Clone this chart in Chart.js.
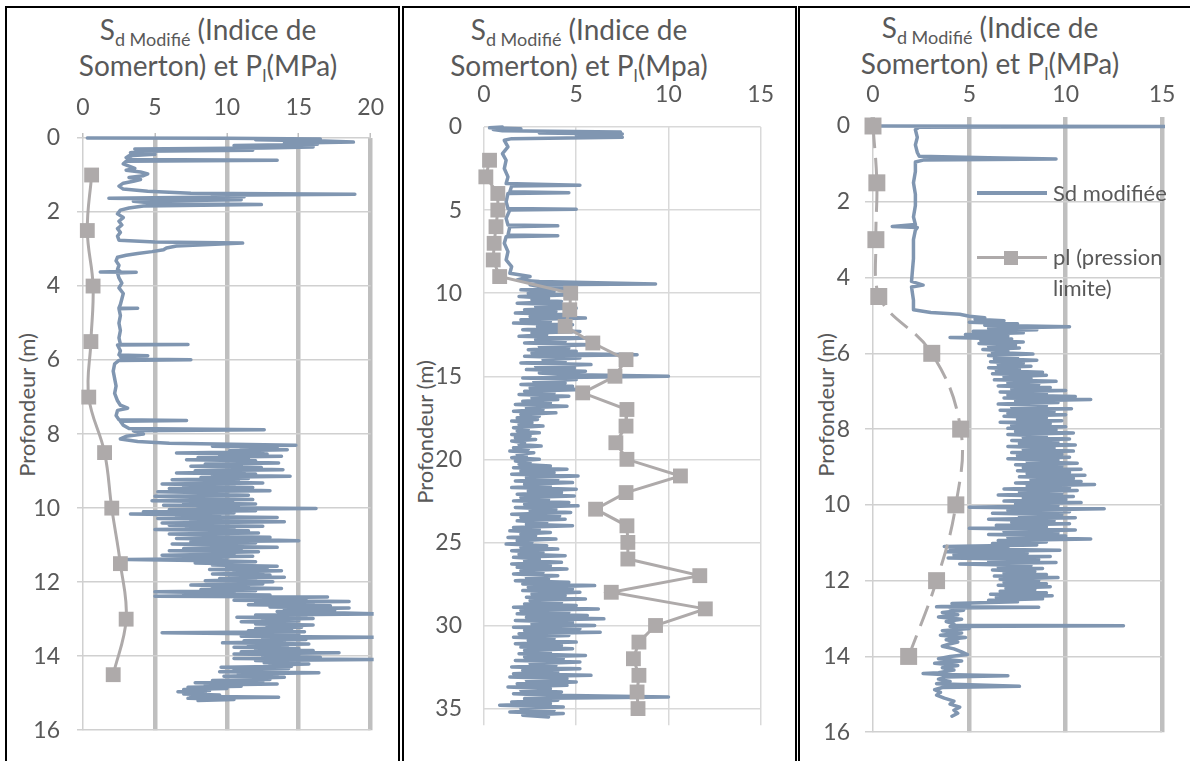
<!DOCTYPE html>
<html><head><meta charset="utf-8">
<script src="https://cdn.jsdelivr.net/npm/chart.js@4.4.1/dist/chart.umd.min.js"></script>
<style>
html,body{margin:0;padding:0;background:#fff;}
body{width:1190px;height:761px;position:relative;overflow:hidden;font-family:Lato,sans-serif;color:#595959;}
.b{position:absolute;background:#000;}
canvas{position:absolute;}
.title{position:absolute;width:400px;text-align:center;font-size:28px;line-height:36px;white-space:nowrap;color:#595959;}
.title sub{font-size:18px;vertical-align:-6px;line-height:0;}
.ytitle{position:absolute;font-size:22px;line-height:26px;white-space:nowrap;transform:translate(-50%,-50%) rotate(-90deg);color:#595959;}
.lg{position:absolute;font-size:22px;white-space:nowrap;color:#595959;}
</style>
</head><body>
<!-- table borders -->
<div class="b" style="left:5px;top:6px;width:2px;height:755px"></div>
<div class="b" style="left:5px;top:6px;width:395px;height:2px"></div>
<div class="b" style="left:398px;top:6px;width:2px;height:755px"></div>
<div class="b" style="left:402px;top:6px;width:2px;height:755px"></div>
<div class="b" style="left:402px;top:6px;width:395px;height:2px"></div>
<div class="b" style="left:795px;top:6px;width:2px;height:755px"></div>
<div class="b" style="left:798px;top:6px;width:2px;height:755px"></div>
<div class="b" style="left:798px;top:6px;width:392px;height:2px"></div>

<div class="title" style="left:8px;top:11px">S<sub>d Modifié</sub> (Indice de<br>Somerton) et P<sub>l</sub>(MPa)</div>
<div class="title" style="left:379px;top:11px">S<sub>d Modifié</sub> (Indice de<br>Somerton) et P<sub>l</sub>(Mpa)</div>
<div class="title" style="left:790px;top:9px">S<sub>d Modifié</sub> (Indice de<br>Somerton) et P<sub>l</sub>(MPa)</div>

<div class="ytitle" style="left:27px;top:405px">Profondeur (m)</div>
<div class="ytitle" style="left:425px;top:432px">Profondeur (m)</div>
<div class="ytitle" style="left:826px;top:405px">Profondeur (m)</div>

<canvas id="c1" width="388" height="681" style="left:8px;top:80px"></canvas>
<canvas id="c2" width="390" height="681" style="left:403px;top:80px"></canvas>
<canvas id="c3" width="390" height="681" style="left:800px;top:80px"></canvas>

<!-- legend of panel 3 -->
<div style="position:absolute;left:977px;top:191px;width:70px;height:4px;background:#8096B1"></div>
<div class="lg" style="left:1053px;top:178px;line-height:30px">Sd modifiée</div>
<div style="position:absolute;left:977px;top:256px;width:70px;height:3px;background:#AEAAAA"></div>
<div style="position:absolute;left:1004px;top:251px;width:14px;height:14px;background:#AEAAAA"></div>
<div class="lg" style="left:1053px;top:241px;line-height:31px">pl (pression<br>limite)</div>

<script>
// ---------- Panel 1 : Sd modifiée ----------
const sd1Depth = [
0,0.01,0.03,0.05,0.08,0.11,0.14,0.17,0.2,0.24,
0.27,0.3,0.33,0.36,0.4,0.44,0.48,0.53,0.58,0.6,
0.63,0.7,0.76,0.82,0.87,0.92,0.97,1.02,1.07,1.12,
1.17,1.22,1.3,1.38,1.44,1.49,1.52,1.55,1.59,1.63,
1.67,1.71,1.76,1.8,1.84,1.89,1.95,2.05,2.15,2.25,
2.35,2.45,2.55,2.65,2.76,2.81,2.84,2.88,2.92,2.97,
3.02,3.07,3.12,3.17,3.22,3.32,3.44,3.55,3.61,3.62,
3.63,3.65,3.78,3.92,4.05,4.2,4.35,4.5,4.59,4.6,
4.61,4.8,5,5.2,5.4,5.57,5.58,5.59,5.75,5.86,
5.88,5.9,5.97,5.99,6.01,6.1,6.3,6.5,6.7,6.9,
7.1,7.22,7.3,7.36,7.5,7.61,7.63,7.65,7.76,7.85,
7.88,7.91,8,8.06,8.13,8.2,8.25,
8.30,8.33,8.36,8.39,8.42,8.45,8.48,8.51,8.54,8.57,
8.60,8.63,8.66,8.69,8.72,8.75,8.78,8.81,8.84,8.87,
8.90,8.93,8.96,8.99,9.02,9.05,9.08,9.11,9.14,9.17,
9.20,9.23,9.26,9.29,9.32,9.35,9.38,9.41,9.44,9.47,
9.50,9.53,9.56,9.59,9.62,9.65,9.68,9.71,9.74,9.77,
9.80,9.83,9.86,9.89,9.92,9.95,9.98,10.01,10.04,10.07,
10.10,10.13,10.16,10.19,10.22,10.25,10.28,10.31,10.34,10.37,
10.40,10.43,10.46,10.49,10.52,10.55,10.58,10.61,10.64,10.67,
10.70,10.73,10.76,10.79,10.82,10.85,10.88,10.91,10.94,10.97,
11.00,11.03,11.06,11.09,11.12,11.15,11.18,11.21,11.24,11.27,
11.30,11.33,11.36,11.39,11.42,11.45,11.48,11.51,11.54,11.57,
11.60,11.63,11.66,11.69,11.72,11.75,11.78,11.81,11.84,11.87,
11.90,11.93,11.96,11.99,12.02,12.05,12.08,12.11,12.14,12.17,
12.20,12.23,12.26,12.29,12.32,12.35,12.38,12.40,12.43,12.46,
12.49,12.52,12.55,12.58,12.61,12.64,12.67,12.70,12.73,12.76,
12.79,12.82,12.86,12.89,12.92,12.95,12.98,13.01,13.04,13.07,
13.10,13.13,13.16,13.19,13.22,13.25,13.28,13.31,13.34,13.37,
13.40,13.43,13.46,13.49,13.52,13.55,13.58,13.61,13.64,13.67,
13.70,13.73,13.76,13.79,13.82,13.85,13.88,13.91,13.94,13.97,
14.00,14.03,14.06,14.09,14.12,14.15,14.18,14.21,14.24,14.27,
14.30,14.33,14.36,14.39,14.42,14.45,14.48,14.51,14.54,14.57,
14.60,14.63,14.66,14.69,14.72,14.75,14.78,14.81,14.84,14.87,
14.90,14.93,14.96,14.99,15.02,15.05,15.08,15.11,15.14,15.17,
15.20];
const sd1Value = [
0.3,10,16.5,12,16.8,18.8,14,16.3,10.5,16,
12.5,3.6,11.8,4,3.3,5,3.2,3,3.4,13.5,
3,2.8,3.2,3.6,3,4,4.5,4.2,3.2,4,
3.5,2.8,2.5,2.8,4.5,7.5,18.9,9,11.2,1.8,
11,3.5,5,12.4,4.2,3.2,2.6,2.4,2.8,2.5,
2.7,2.4,2.6,2.4,2.5,5,11.1,8.8,6.5,5.8,
5.6,4.8,3.8,3,2.4,2.3,2.5,2.4,2.6,1.2,
3.7,2.4,2.5,2.7,2.5,2.8,2.7,2.6,2.5,3.8,
2.5,2.6,2.5,2.6,2.5,2.6,7.3,2.4,2.6,2.5,
4.5,2.6,2.7,7.5,2.5,2.2,2.1,2.2,2.3,2.2,
2.4,2.6,3.1,2.4,2.3,2.5,7.2,2.6,2.8,3.2,
12.6,3.5,4.2,3,2.6,3.8,6,
14.8,9.0,13.5,11.0,14.2,10.2,12.5,6.5,12.8,9.5,
13.8,8.0,11.5,7.2,12.0,9.8,13.6,8.5,11.0,7.5,
12.4,10.0,13.9,7.8,11.2,6.5,12.0,9.0,14.4,8.2,
11.5,6.2,10.8,8.0,12.5,5.5,10.5,7.0,11.8,6.0,
9.8,13.0,5.2,10.0,7.5,11.5,5.0,9.2,6.8,11.8,
4.8,10.4,7.0,12.0,5.6,10.8,8.0,16.2,6.0,12.0,
4.2,10.5,3.3,9.5,6.5,13.5,5.2,11.0,7.5,14.0,
5.5,9.8,6.0,12.5,7.2,10.5,5.0,11.5,7.8,12.2,
6.0,10.0,8.0,13.0,6.5,11.5,15.0,7.5,12.0,6.2,
10.8,8.5,13.5,7.0,11.0,6.0,12.2,8.0,10.5,5.5,
11.8,7.2,10.0,3.1,9.0,12.0,7.8,11.0,9.0,13.5,
10.0,12.8,8.8,13.8,10.5,12.5,9.0,13.0,10.2,14.0,
9.5,12.0,8.5,13.2,9.8,12.5,7.5,11.5,9.0,13.8,
8.2,12.0,5.0,10.5,7.0,13.0,5.0,17.0,11.0,15.5,
10.5,18.5,12.0,16.0,11.5,17.2,13.0,18.5,14.0,17.5,
13.5,16.8,21.0,12.0,15.5,10.7,16.0,12.5,15.0,11.0,
14.8,12.0,16.0,12.8,15.2,12.0,14.5,11.5,15.4,5.5,
13.0,15.0,11.0,20.2,12.5,15.5,11.2,14.0,9.7,15.7,
11.5,14.2,10.5,15.0,12.0,16.0,11.0,17.8,10.5,15.0,
12.5,16.5,10.5,20.5,12.0,15.0,12.6,15.7,13.0,14.5,
9.6,14.3,10.5,13.0,9.5,16.4,10.8,13.5,9.8,14.0,
11.0,13.0,9.0,12.5,7.8,13.5,8.5,11.0,7.3,10.0,
7.0,8.8,6.6,8.5,7.0,9.5,7.5,13.6,7.3,10.5,
8.0];
// ---------- Panel 1 : pl ----------
const pl1Depth = [1, 2.5, 4, 5.5, 7, 8.5, 10, 11.5, 13, 14.5];
const pl1Value = [0.6, 0.3, 0.7, 0.55, 0.4, 1.5, 2.0, 2.6, 3.0, 2.1];

// ---------- Panel 2 : Sd modifiée ----------
const sd2Depth = [
0,0.05,0.1,0.15,0.22,0.3,0.36,0.42,0.48,0.55,
0.62,0.7,0.8,1.2,1.6,2,2.5,3,3.4,3.5,
3.55,3.9,3.95,4,4.5,4.9,4.95,5,5.5,5.9,
5.95,6,6.5,6.55,6.6,7,7.5,8,8.4,8.8,
9,9.2,9.3,9.45,9.5,
9.6,9.7,9.8,9.9,10,10.1,10.2,10.3,10.4,10.5,
10.6,10.7,10.8,10.9,11,11.1,11.2,11.3,11.4,11.5,
11.6,11.7,11.8,11.9,12,12.1,12.2,12.3,12.4,12.5,
12.6,12.7,12.8,12.9,13,13.1,13.2,13.3,13.4,13.5,
13.6,13.7,13.8,13.9,14,14.1,14.2,14.3,14.4,14.5,
14.6,14.7,14.8,14.9,15,15.1,15.2,15.3,15.4,15.5,
15.6,15.7,15.8,15.9,16,16.1,16.2,16.3,16.4,16.5,
16.6,16.7,16.8,16.9,17,17.1,17.2,17.3,17.4,17.5,
17.6,17.7,17.8,17.9,18,18.1,18.2,18.3,18.4,18.5,
18.6,18.7,18.8,18.9,19,19.1,19.2,19.3,19.4,19.5,
19.6,19.7,19.8,19.9,20,20.1,20.2,20.3,20.4,20.5,
20.6,20.7,20.8,20.9,21,21.1,21.2,21.3,21.4,21.5,
21.6,21.7,21.8,21.9,22,22.1,22.2,22.3,22.4,22.5,
22.6,22.7,22.8,22.9,23,23.1,23.2,23.3,23.4,23.5,
23.6,23.7,23.8,23.9,24,24.1,24.2,24.3,24.4,24.5,
24.6,24.7,24.8,24.9,25,25.1,25.2,25.3,25.4,25.5,
25.6,25.7,25.8,25.9,26,26.1,26.2,26.3,26.4,26.5,
26.6,26.7,26.8,26.9,27,27.1,27.2,27.3,27.4,27.5,
27.6,27.7,27.8,27.9,28,28.1,28.2,28.3,28.4,28.5,
28.6,28.7,28.8,28.9,29,29.1,29.2,29.3,29.4,29.5,
29.6,29.7,29.8,29.9,30,30.1,30.2,30.3,30.4,30.5,
30.6,30.7,30.8,30.9,31,31.1,31.2,31.3,31.4,31.5,
31.6,31.7,31.8,31.9,32,32.1,32.2,32.3,32.4,32.5,
32.6,32.7,32.8,32.9,33,33.1,33.2,33.3,33.4,33.5,
33.6,33.7,33.8,33.9,34,34.1,34.2,34.3,34.4,34.5,
34.6,34.7,34.8,34.9,35,35.1,35.2,35.3,35.4,35.5];
const sd2Value = [
1,0.3,2,0.5,1,7.4,3,7.5,5,7.3,
7.5,1.5,1.1,1.3,1,1.2,1.1,1.3,1.2,5.2,
1.5,1.4,4.6,1.3,1.2,1.3,5,1.4,1.2,1.3,
4,1.4,1.3,4,1.2,1.1,1.3,1.2,1.5,1.4,
2.5,1.8,3,9.3,2.5,
3.0,4.6,2.0,3.8,2.4,4.8,1.9,3.5,2.6,4.2,
1.8,4.4,2.8,5.0,2.2,3.9,1.7,4.6,2.5,5.5,
2.0,3.6,1.6,4.8,2.9,4.0,2.1,5.2,2.6,3.4,
1.9,5.6,2.8,4.4,2.2,5.8,3.0,4.6,2.4,5.0,
2.6,8.3,2.2,5.2,3.2,4.4,2.0,5.8,2.8,4.9,
2.3,5.5,3.0,4.2,10.0,2.1,5.0,2.7,4.4,2.0,
4.8,2.5,5.4,2.2,3.8,1.9,4.6,2.6,4.0,2.1,
3.6,1.7,4.5,2.3,3.2,1.6,3.9,2.0,3.0,1.8,
2.9,1.5,2.6,1.9,3.2,1.6,2.4,1.8,3.0,1.5,
2.5,1.7,2.8,1.5,2.2,1.9,3.1,1.6,2.4,1.4,
2.7,1.8,2.3,1.5,3.0,1.7,2.5,1.9,3.6,1.6,
4.5,2.0,3.8,1.5,5.1,2.3,4.0,1.7,4.8,2.2,
3.6,1.5,5.0,2.4,4.2,1.8,4.9,2.0,3.5,1.6,
4.6,2.2,5.1,1.7,3.9,2.5,4.7,1.5,4.1,2.0,
4.4,1.8,3.4,2.3,4.8,1.6,3.0,1.4,3.6,2.0,
2.8,1.3,3.9,1.8,2.6,1.2,3.4,2.0,4.0,1.5,
3.2,1.9,4.4,1.6,3.0,2.2,4.2,1.5,3.6,1.8,
4.5,2.0,3.2,1.6,4.0,2.3,3.5,1.7,4.6,2.1,
6.0,2.4,4.8,2.1,5.2,2.6,4.4,2.3,5.5,2.5,
4.2,2.2,5.0,1.6,6.2,2.0,4.6,1.8,5.6,2.3,
6.5,1.7,4.8,2.6,6.0,1.6,5.2,2.2,6.3,1.9,
4.6,1.6,3.8,2.4,5.0,1.7,4.2,2.0,4.8,2.2,
3.6,1.9,5.5,2.2,4.3,1.7,5.2,2.5,3.9,1.5,
5.2,2.1,4.0,1.6,5.8,1.4,4.5,2.3,5.0,1.8,
4.5,1.3,3.6,2.0,4.2,1.6,3.8,10.0,2.2,4.0,
1.5,3.6,0.85,4.3,2.0,3.8,1.4,4.3,2.1,3.5];
// ---------- Panel 2 : pl ----------
const pl2Depth = [2,3,4,5,6,7,8,9,10,11,12,13,14,15,16,17,18,19,20,21,22,23,24,25,26,27,28,29,30,31,32,33,34,35];
const pl2Value = [0.3,0.1,0.75,0.75,0.65,0.55,0.5,0.85,4.7,4.65,4.4,5.9,7.7,7.1,5.35,7.75,7.7,7.15,7.75,10.65,7.7,6.05,7.75,7.8,7.8,11.7,6.9,12.0,9.3,8.4,8.1,8.4,8.3,8.35];

// ---------- Panel 3 : Sd modifiée ----------
const sd3Depth = [
0,0.01,0.03,0.1,0.3,0.5,0.7,0.8,0.84,0.87,
0.9,0.95,1.2,1.5,1.8,2.1,2.4,2.6,2.65,2.68,
2.75,3,3.5,4.1,4.2,4.25,4.6,4.85,4.92,4.97,
5.02,5.06,
5.10,5.14,5.18,5.22,5.26,5.30,5.34,5.38,5.42,5.46,
5.50,5.54,5.58,5.62,5.66,5.70,5.74,5.78,5.82,5.86,
5.90,5.94,5.98,6.02,6.06,6.10,6.14,6.18,6.22,6.26,
6.30,6.34,6.38,6.42,6.46,6.50,6.54,6.58,6.62,6.66,
6.70,6.74,6.78,6.82,6.86,6.90,6.94,6.98,7.02,7.06,
7.10,7.14,7.18,7.22,7.26,7.30,7.34,7.38,7.42,7.46,
7.50,7.54,7.58,7.62,7.66,7.70,7.74,7.78,7.82,7.86,
7.90,7.94,7.98,8.02,8.06,8.10,8.14,8.18,8.22,8.26,
8.30,8.34,8.38,8.42,8.46,8.50,8.54,8.58,8.62,8.66,
8.70,8.74,8.78,8.82,8.86,8.90,8.94,8.98,9.02,9.06,
9.10,9.14,9.18,9.22,9.26,9.30,9.34,9.38,9.42,9.46,
9.50,9.54,9.58,9.62,9.66,9.70,9.74,9.78,9.82,9.86,
9.90,9.94,9.98,10.02,10.06,10.10,10.14,10.18,10.22,10.26,
10.30,10.34,10.38,10.42,10.46,10.50,10.54,10.58,10.62,10.66,
10.70,10.74,10.78,10.82,10.86,10.90,10.94,10.98,11.02,11.06,
11.10,11.13,11.16,11.20,11.24,11.28,11.32,11.36,11.40,11.44,
11.48,11.52,11.56,11.60,11.64,11.68,11.72,11.76,11.80,11.84,
11.88,11.92,11.96,12.00,12.04,12.08,12.12,12.16,12.20,12.24,
12.28,12.32,12.36,12.40,12.44,12.48,12.52,12.56,12.60,12.64,
12.69,12.70,12.72,12.78,12.84,12.90,12.96,13.02,13.08,13.14,
13.18,13.19,13.21,13.26,13.32,13.38,13.44,13.50,13.56,13.62,
13.68,13.73,13.80,13.88,13.95,14.00,14.06,14.12,14.18,14.24,
14.30,14.36,14.43,14.45,14.48,14.51,14.54,14.60,14.66,14.72,
14.79,14.82,14.88,14.95,15.02,15.10,15.18,15.26,15.34,15.42,
15.50,15.58];
const sd3Value = [
0.2,15.3,2.4,2.2,2.3,2.2,2.3,2.4,6,9.5,
2.6,2.2,2.2,2.1,2.2,2.2,2.1,2.2,1,2.3,
2.2,2.1,2.1,2,2.6,2,2.1,2.1,3,4.5,
5,5.8,
5.3,6.8,5.0,7.5,5.8,10.2,6.0,8.5,5.2,7.8,
4.8,7.0,4.0,7.2,5.6,7.8,5.5,7.4,6.0,7.6,
5.7,7.0,6.2,8.3,6.0,7.5,6.3,8.5,6.1,7.8,
6.5,8.2,6.0,7.6,6.4,8.8,6.2,9.0,6.8,8.2,
6.3,9.5,7.0,8.6,6.5,9.2,7.2,10.0,6.6,9.0,
7.0,10.5,6.8,11.3,7.4,9.6,6.5,9.0,7.2,10.3,
6.6,9.4,7.0,10.0,6.8,9.0,7.5,9.8,6.6,9.2,
7.2,10.0,7.0,9.5,7.4,10.4,7.0,9.0,7.8,10.2,
7.2,9.6,7.6,10.5,7.0,9.4,7.8,10.4,7.2,9.8,
7.5,10.2,7.0,9.6,8.0,10.6,7.4,9.8,7.8,10.8,
7.5,10.2,8.0,11.0,7.6,10.4,8.2,10.8,7.4,11.5,
8.0,10.2,6.8,10.6,7.6,9.8,6.5,10.4,7.8,10.0,
6.8,10.8,7.4,9.6,5.0,12.0,7.0,10.2,6.2,9.8,
7.6,10.5,6.0,9.4,7.2,10.2,6.4,9.0,5.0,10.5,
6.8,9.6,6.0,10.0,7.0,11.3,6.5,9.0,6.2,8.5,
3.7,7.0,4.0,9.7,3.8,8.0,4.2,9.2,3.9,8.6,
6.0,9.5,4.5,8.2,6.5,8.8,6.2,8.4,6.8,9.0,
6.3,9.6,6.6,8.6,6.8,9.0,6.5,9.2,6.9,8.4,
6.6,9.0,6.1,9.3,6.4,8.8,6.0,7.5,4.1,5.0,
3.3,8.6,4.0,4.7,3.6,4.4,3.4,4.6,3.8,4.2,
4.1,13.0,4.0,5.0,3.6,4.6,3.5,4.8,3.8,4.4,
3.9,3.6,4.2,4.6,4.9,4.0,3.4,4.6,3.2,4.4,
3.6,4.2,3.4,2.6,3.6,7.0,3.8,3.4,4.0,3.3,
7.6,3.6,3.2,3.5,3.3,3.7,4.2,4.0,4.5,4.2,
4.4,4.1];
// ---------- Panel 3 : pl ----------
const pl3Depth = [0, 1.5, 3, 4.5, 6, 8, 10, 12, 14];
const pl3Value = [0, 0.2, 0.15, 0.3, 3.05, 4.55, 4.3, 3.3, 1.85];

const SD_COLOR = '#8096B1';
const PL_COLOR = '#AEAAAA';
const TXT = '#595959';
const TICK_SIZE = 23;

Chart.defaults.font.family = 'Lato, sans-serif';
Chart.defaults.color = TXT;

function pts(depths, values) {
  return depths.map((d, i) => ({ x: values[i], y: d }));
}

function build(id, o) {
  return new Chart(document.getElementById(id), {
    type: 'scatter',
    data: {
      datasets: [
        { label: 'Sd modifiée', data: pts(o.sdD, o.sdV), showLine: true,
          borderColor: SD_COLOR, backgroundColor: SD_COLOR, borderWidth: 3.5,
          pointRadius: 0, borderJoinStyle: 'round', borderCapStyle: 'round',
          order: 2, clip: { left: 4, top: 4, right: 3, bottom: 4 } },
        { label: 'pl (pression limite)', data: pts(o.plD, o.plV), showLine: true,
          borderColor: PL_COLOR, backgroundColor: PL_COLOR, borderWidth: 3,
          borderDash: o.dash || [], tension: o.tension,
          pointStyle: 'rect', pointRadius: o.pr, pointBorderWidth: 0,
          pointBackgroundColor: PL_COLOR, order: 1, clip: false }
      ]
    },
    options: {
      responsive: false, animation: false, events: [],
      layout: { padding: { left: 0, top: 0, right: o.padR, bottom: o.padB } },
      plugins: { legend: { display: false }, tooltip: { enabled: false } },
      scales: {
        x: { type: 'linear', position: 'top', min: 0, max: o.xmax,
             afterFit: s => { s.height = o.xH; },
             ticks: { stepSize: 5, color: TXT, font: { size: TICK_SIZE }, padding: o.xPad },
             grid: o.xGrid, border: { display: false } },
        y: { type: 'linear', reverse: true, min: 0, max: o.ymax,
             afterFit: s => { s.width = o.yW; },
             ticks: { stepSize: o.ystep, color: TXT, font: { size: TICK_SIZE }, padding: o.yPad, includeBounds: false },
             grid: o.yGrid, border: { display: false } }
      }
    }
  });
}

const thickGrid = (tl, tw) => ({
  color: c => (c.tick && c.tick.value === 0) ? '#d0d0d0' : '#bfbfbf',
  lineWidth: c => (c.tick && c.tick.value === 0) ? 1.5 : 4.5,
  tickLength: tl, tickWidth: tw, tickColor: '#bfbfbf'
});

build('c1', { sdD: sd1Depth, sdV: sd1Value, plD: pl1Depth, plV: pl1Value,
  tension: 0.4, pr: 10.5, xmax: 20, ymax: 16, ystep: 2,
  padR: 24, padB: 21, xH: 58, yW: 75, xPad: 12, yPad: 17,
  xGrid: thickGrid(5, 1.5),
  yGrid: { color: '#d0d0d0', lineWidth: 1.5, tickLength: 6 } });

build('c2', { sdD: sd2Depth, sdV: sd2Value, plD: pl2Depth, plV: pl2Value,
  tension: 0, pr: 10.5, xmax: 15, ymax: 36, ystep: 5,
  padR: 26, padB: 15, xH: 47, yW: 81, xPad: 19, yPad: 22,
  xGrid: { color: '#d9d9d9', lineWidth: 1.5, drawTicks: false },
  yGrid: { color: '#d9d9d9', lineWidth: 1.5, drawTicks: false } });

build('c3', { sdD: sd3Depth, sdV: sd3Value, plD: pl3Depth, plV: pl3Value,
  tension: 0.4, pr: 12, dash: [22, 10], xmax: 15, ymax: 16, ystep: 2,
  padR: 28, padB: 21, xH: 46, yW: 73, xPad: 9, yPad: 15,
  xGrid: thickGrid(9, 4.5),
  yGrid: { color: '#d0d0d0', lineWidth: 1.5, tickLength: 8 } });
</script>
</body></html>
